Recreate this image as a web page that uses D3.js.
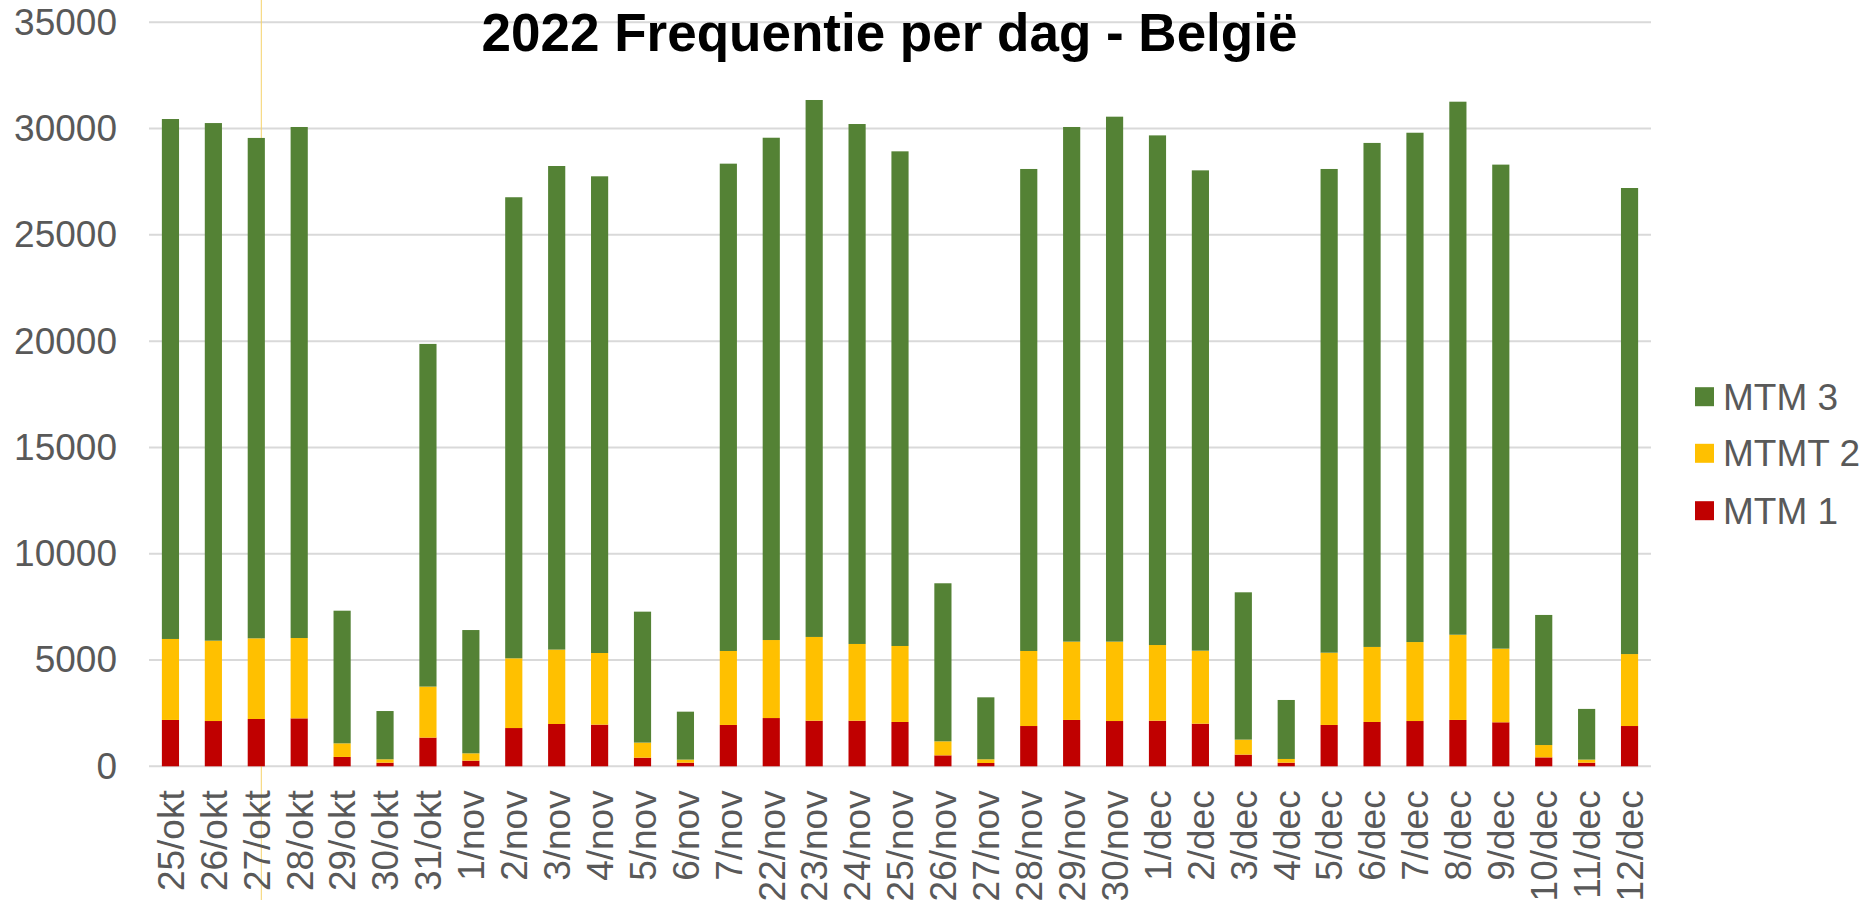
<!DOCTYPE html>
<html>
<head>
<meta charset="utf-8">
<script src="https://cdn.jsdelivr.net/npm/d3@7"></script>
<style>
  html, body { margin: 0; padding: 0; background: #ffffff; }
  svg { display: block; }
</style>
</head>
<body>
<svg id="chart" width="1875" height="900"></svg>
<script>
const categories = ["25/okt","26/okt","27/okt","28/okt","29/okt","30/okt","31/okt",
  "1/nov","2/nov","3/nov","4/nov","5/nov","6/nov","7/nov",
  "22/nov","23/nov","24/nov","25/nov","26/nov","27/nov","28/nov","29/nov","30/nov",
  "1/dec","2/dec","3/dec","4/dec","5/dec","6/dec","7/dec","8/dec","9/dec","10/dec","11/dec","12/dec"];

const mtm1 = [2180,2130,2225,2255,440,170,1350,
  265,1800,1990,1960,405,170,1945,
  2270,2145,2145,2085,515,155,1895,2180,2130,
  2145,2005,550,170,1945,2085,2130,2180,2070,420,170,1895];

const mtmt2 = [3810,3780,3795,3780,640,160,2400,
  345,3280,3500,3370,710,145,3480,
  3670,3940,3610,3575,660,175,3530,3685,3735,
  3560,3435,705,175,3400,3530,3715,4010,3465,580,145,3385];

const mtm3 = [24460,24350,23540,24040,6240,2270,16120,
  5800,21690,22750,22425,6160,2255,22925,
  23630,25260,24460,23270,7435,2915,22675,24210,24695,
  23975,22595,6930,2775,22755,23710,23960,25075,22770,6120,2385,21925];

const yTicks = [0,5000,10000,15000,20000,25000,30000,35000];
const seriesNames = ["MTM 1","MTMT 2","MTM 3"];
const seriesColors = ["#c00000","#ffc000","#548235"];
const titleText = "2022 Frequentie per dag - België";

const FONT = "'Liberation Sans', Arial, sans-serif";
const svg = d3.select("#chart");

const x0 = 149, x1 = 1651, yBase = 766.3, yTop = 22.3;

const x = d3.scaleBand().domain(categories).range([x0, x1]).paddingInner(0.6).paddingOuter(0.3);
const y = d3.scaleLinear().domain([0, 35000]).range([yBase, yTop]);

// gridlines
svg.append("g").selectAll("line").data(yTicks).join("line")
  .attr("x1", x0).attr("x2", x1)
  .attr("y1", d => y(d)).attr("y2", d => y(d))
  .attr("stroke", "#d9d9d9").attr("stroke-width", 2);

// stray vertical cursor line
svg.append("line").attr("x1", 261.3).attr("x2", 261.3).attr("y1", 0).attr("y2", 900)
  .attr("stroke", "#f6d36b").attr("stroke-width", 1);

// y axis labels
const yAxis = d3.axisLeft(y).tickValues(yTicks).tickSize(0).tickPadding(32).tickFormat(d3.format("d"));
const gy = svg.append("g").attr("transform", `translate(${x0},0)`).call(yAxis);
gy.select(".domain").remove();
gy.selectAll("text").attr("fill", "#595959").style("font-family", FONT).style("font-size", "37px");

// stacked bars
const rows = categories.map((c, i) => ({cat: c, "MTM 1": mtm1[i], "MTMT 2": mtmt2[i], "MTM 3": mtm3[i]}));
const stacked = d3.stack().keys(seriesNames)(rows);
svg.append("g").selectAll("g").data(stacked).join("g")
  .attr("fill", (d, i) => seriesColors[i])
  .selectAll("rect").data(d => d).join("rect")
  .attr("x", d => x(d.data.cat))
  .attr("width", x.bandwidth())
  .attr("y", d => y(d[1]))
  .attr("height", d => y(d[0]) - y(d[1]));

// x axis labels
const xAxis = d3.axisBottom(x).tickSize(0).tickPadding(0);
const gx = svg.append("g").attr("transform", `translate(0,${yBase})`).call(xAxis);
gx.select(".domain").remove();
gx.selectAll("text")
  .attr("fill", "#595959").style("font-family", FONT).style("font-size", "37px")
  .attr("text-anchor", "end")
  .attr("transform", "translate(0,24) rotate(-90)")
  .attr("x", 0).attr("y", 0).attr("dy", "0.36em");

// title
svg.append("text").attr("x", 889.5).attr("y", 50.5).attr("text-anchor", "middle")
  .style("font-family", FONT).style("font-size", "53px").style("font-weight", "bold")
  .attr("fill", "#000000").text(titleText);

// legend (MTM 3 on top)
const legendItems = [2, 1, 0];
const legendY = [396.7, 453.3, 510.7];
const lg = svg.append("g");
legendItems.forEach((si, k) => {
  lg.append("rect").attr("x", 1695).attr("y", legendY[k] - 9.5).attr("width", 19).attr("height", 19)
    .attr("fill", seriesColors[si]);
  lg.append("text").attr("x", 1723).attr("y", legendY[k]).attr("dy", "0.35em")
    .style("font-family", FONT).style("font-size", "37px").attr("fill", "#595959")
    .text(seriesNames[si]);
});
</script>
</body>
</html>
